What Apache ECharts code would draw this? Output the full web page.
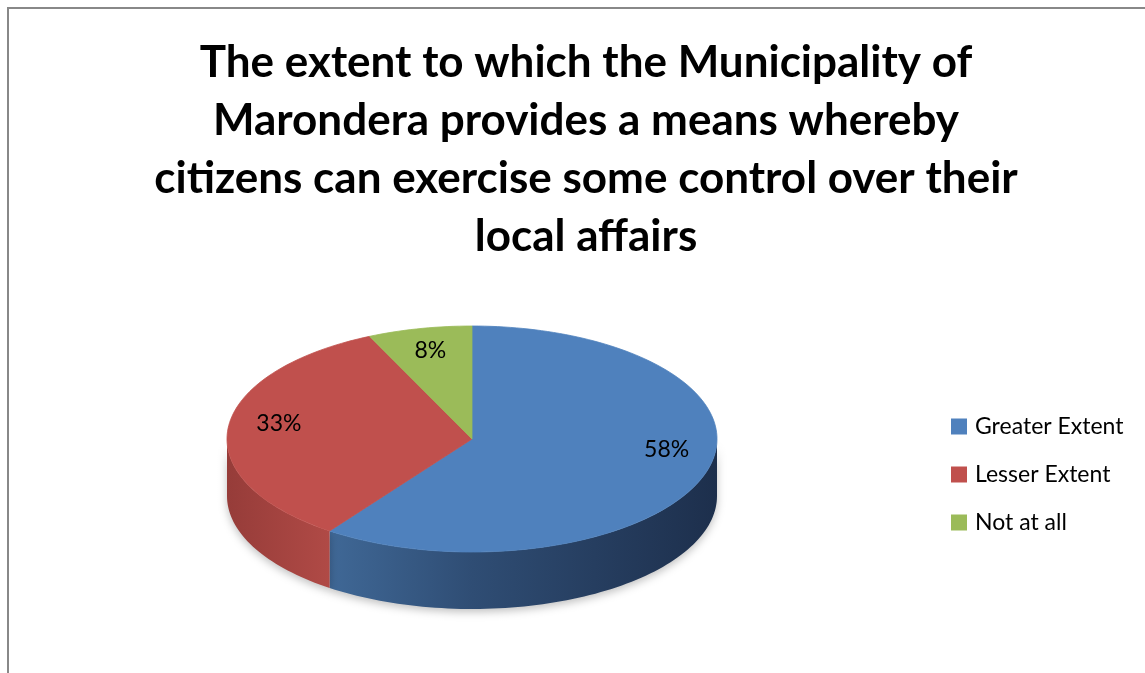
<!DOCTYPE html>
<html>
<head>
<meta charset="utf-8">
<script src="https://cdn.jsdelivr.net/npm/echarts@6/dist/echarts.min.js"></script>
<style>
  html, body { margin: 0; padding: 0; background: #fff; }
  #chart { width: 1145px; height: 673px; }
</style>
</head>
<body>
<div id="chart"></div>
<script>
const categories = ["Greater Extent", "Lesser Extent", "Not at all"];
const shares = [58, 33, 8];
const titleLines = [
  "The extent to which the Municipality of",
  "Marondera provides a means whereby",
  "citizens can exercise some control over their",
  "local affairs",
];

const topColors = ["#4f81bd", "#c0504d", "#9bbb59"];
const wallStops = [
  [[0, "#4a78ae"], [0.22, "#3f6795"], [0.5, "#2f4d74"], [1, "#1d2f4c"]],
  [[0, "#963c39"], [0.21, "#b04a46"], [1, "#602220"]],
  [[0, "#7f9a48"], [1, "#4d5e2b"]],
];
const FONT = "Lato, 'Open Sans', sans-serif";

// tilted pie geometry (screen px)
const PIE = { cx: 472, cy: 439, rx: 245, ry: 113, depth: 57, skew: 9 };

const total = shares.reduce((a, b) => a + b, 0);
const startAngles = [];
let acc = 0;
shares.forEach((v) => {
  startAngles.push((acc / total) * 360);
  acc += v;
});

// fake perspective: front of the disc looks a little wider than the back
const toView = (deg) => deg - PIE.skew * Math.sin((deg * Math.PI) / 180);

const rimPoint = (deg, drop = 0, k = 1) => {
  const r = (deg * Math.PI) / 180;
  return [PIE.cx + PIE.rx * k * Math.sin(r), PIE.cy - PIE.ry * k * Math.cos(r) + drop];
};

const arc = (from, to, drop) => {
  const n = Math.max(2, Math.ceil(Math.abs(to - from) / 1.5));
  const pts = [];
  for (let i = 0; i <= n; i++) {
    pts.push(rimPoint(from + ((to - from) * i) / n, drop));
  }
  return pts;
};

const wallFill = (index) =>
  new echarts.graphic.LinearGradient(
    PIE.cx - PIE.rx, 0, PIE.cx + PIE.rx, 0,
    wallStops[index].map(([offset, color]) => ({ offset, color })),
    true
  );

const renderSlice = (index) => () => {
  const sweep = (shares[index] / total) * 360;
  const a = toView(startAngles[index]);
  const b = toView(startAngles[index] + sweep);
  const children = [];

  const w1 = Math.max(a, 90);
  const w2 = Math.min(b, 270);
  if (w2 > w1) {
    children.push({
      type: "polygon",
      z2: 1,
      shape: { points: arc(w1, w2, 0).concat(arc(w2, w1, PIE.depth)) },
      style: {
        fill: wallFill(index),
        shadowBlur: 8,
        shadowOffsetY: 3,
        shadowColor: "rgba(0,0,0,0.25)",
      },
    });
  }

  children.push({
    type: "polygon",
    z2: 2,
    shape: { points: [[PIE.cx, PIE.cy]].concat(arc(a, b, 0)) },
    style: { fill: topColors[index], stroke: topColors[index], lineWidth: 0.8 },
  });

  const [lx, ly] = rimPoint(toView(startAngles[index] + sweep / 2), 0, 0.8);
  children.push({
    type: "text",
    z2: 3,
    style: {
      text: `${shares[index]}%`,
      x: lx,
      y: ly,
      align: "center",
      verticalAlign: "middle",
      fontSize: 23,
      fontFamily: FONT,
      fill: "#000",
    },
  });

  return { type: "group", children };
};

const chart = echarts.init(document.getElementById("chart"));

chart.setOption({
  animation: false,
  backgroundColor: "#fff",
  title: {
    text: titleLines.join("\n"),
    left: 581,
    textAlign: "center",
    top: 29,
    textStyle: {
      fontFamily: FONT,
      fontWeight: "bold",
      fontSize: 44,
      lineHeight: 58,
      color: "#000",
    },
  },
  legend: {
    orient: "vertical",
    left: 951,
    top: 415,
    padding: 0,
    itemWidth: 16,
    itemHeight: 16,
    itemGap: 25,
    icon: "rect",
    data: categories,
    textStyle: {
      fontFamily: FONT,
      fontSize: 23,
      lineHeight: 20,
      color: "#000",
      padding: [0, 0, 0, 3],
    },
  },
  graphic: [
    {
      type: "rect",
      silent: true,
      z: -1,
      shape: { x: 8, y: 8, width: 1400, height: 900 },
      style: { fill: "none", stroke: "#888", lineWidth: 2 },
    },
  ],
  series: categories.map((name, index) => ({
    type: "custom",
    name,
    coordinateSystem: "none",
    itemStyle: { color: topColors[index] },
    data: [[index]],
    renderItem: renderSlice(index),
  })),
});
</script>
</body>
</html>
